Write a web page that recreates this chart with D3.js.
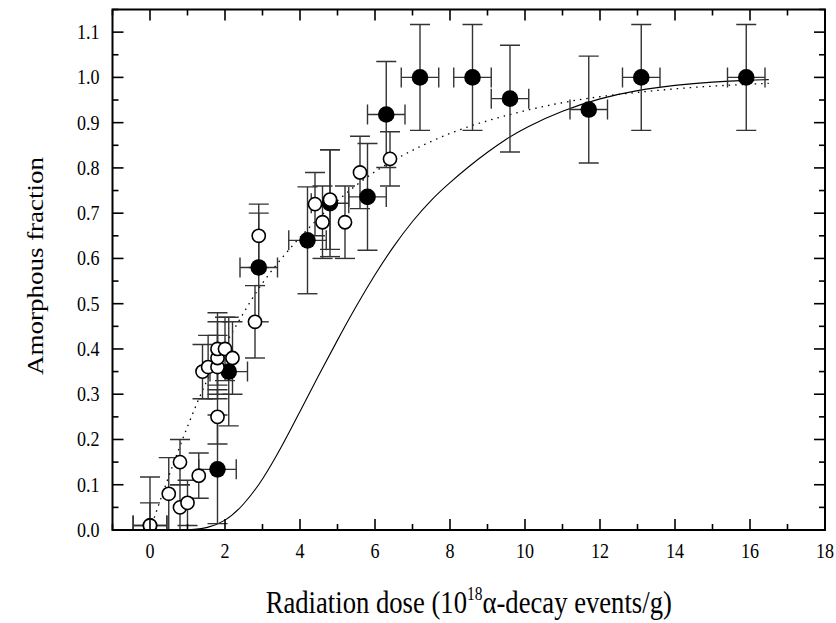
<!DOCTYPE html>
<html>
<head>
<meta charset="utf-8">
<script src="https://cdn.jsdelivr.net/npm/d3@7"></script>
<style>
  html, body { margin: 0; padding: 0; background: #fff; }
  svg { display: block; }
</style>
</head>
<body>
<svg id="chart" width="836" height="623"></svg>
<script>
// ---- Data ----
// Filled circles: dose, fraction, x error, y error
const filledX    = [1.8, 2.1, 2.9, 4.2, 4.8, 5.8, 6.3, 7.2, 8.6, 9.6, 11.7, 13.1, 15.9];
const filledY    = [0.134, 0.35, 0.58, 0.64, 0.722, 0.736, 0.918, 1.0, 1.0, 0.953, 0.929, 1.0, 1.0];
const filledXErr = [0.5, 0.5, 0.5, 0.5, 0.5, 0.5, 0.5, 0.5, 0.5, 0.5, 0.5, 0.5, 0.5];
const filledYErr = [0.12, 0.12, 0.12, 0.118, 0.118, 0.118, 0.117, 0.117, 0.117, 0.118, 0.118, 0.117, 0.117];

// Open circles: dose, fraction, y error
const openX    = [0, 0, 0.5, 0.8, 0.8, 1.0, 1.3, 1.4, 1.55, 1.8, 1.8, 1.8, 1.8, 2.0, 2.2, 2.8, 2.9, 4.4, 4.6, 4.8, 5.2, 5.6, 6.4];
const openY    = [0.01, 0.01, 0.08, 0.05, 0.15, 0.06, 0.12, 0.35, 0.36, 0.25, 0.36, 0.38, 0.40, 0.40, 0.38, 0.46, 0.65, 0.72, 0.68, 0.73, 0.68, 0.79, 0.82];
const openYErr = [0.107, 0.05, 0.08, 0.05, 0.05, 0.05, 0.05, 0.06, 0.07, 0.06, 0.07, 0.08, 0.08, 0.07, 0.08, 0.08, 0.07, 0.07, 0.08, 0.11, 0.08, 0.08, 0.06];

// Solid model curve
const solidX = [0, 0.8, 1.2, 1.5, 2, 2.5, 3, 3.5, 4, 4.5, 5, 5.5, 6, 6.5, 7, 7.5, 8, 8.5, 9, 9.5, 10, 11, 12, 13, 14, 15, 16, 16.5];
const solidY = [0, 0, 0.001, 0.004, 0.018, 0.055, 0.11, 0.182, 0.262, 0.342, 0.42, 0.495, 0.565, 0.628, 0.683, 0.73, 0.768, 0.803, 0.835, 0.864, 0.889, 0.927, 0.954, 0.972, 0.983, 0.99, 0.994, 0.995];

// Dotted model curve
const dotX = [0, 0.5, 1, 1.5, 2, 2.5, 3, 4, 5, 6, 7, 8, 9, 10, 11, 12, 13, 14, 15, 16, 16.5];
const dotY = [0, 0.12, 0.23, 0.33, 0.41, 0.48, 0.55, 0.65, 0.73, 0.795, 0.84, 0.878, 0.905, 0.927, 0.945, 0.958, 0.967, 0.975, 0.981, 0.985, 0.987];

// Axis ticks
const xTickLabels = ["0", "2", "4", "6", "8", "10", "12", "14", "16", "18"];
const xMajor = [0, 2, 4, 6, 8, 10, 12, 14, 16, 18];
const xMinor = [-1, 1, 3, 5, 7, 9, 11, 13, 15, 17];
const yMajor = [0, 0.1, 0.2, 0.3, 0.4, 0.5, 0.6, 0.7, 0.8, 0.9, 1.0, 1.1];
const yTickLabels = ["0.0", "0.1", "0.2", "0.3", "0.4", "0.5", "0.6", "0.7", "0.8", "0.9", "1.0", "1.1"];
const yMinor = [0.05, 0.15, 0.25, 0.35, 0.45, 0.55, 0.65, 0.75, 0.85, 0.95, 1.05, 1.15];

// ---- Layout ----
const L = 112.5, R = 825, T = 9.5, B = 530;
const SX = 0.86; // horizontal squeeze of the reference lettering
const svg = d3.select("#chart");
const x = d3.scaleLinear().domain([-1, 18]).range([L, R]);
const y = d3.scaleLinear().domain([0, 1.15]).range([B, T]);
const font = "'Liberation Serif', 'Times New Roman', serif";

svg.append("defs").append("clipPath").attr("id", "plotclip")
  .append("rect").attr("x", L).attr("y", T).attr("width", R - L).attr("height", B - T);

const plot = svg.append("g").attr("clip-path", "url(#plotclip)");

// curves
const line = d3.line().x(d => x(d[0])).y(d => y(d[1])).curve(d3.curveBasis);
plot.append("path").datum(solidX.map((v, i) => [v, solidY[i]]))
  .attr("d", line).attr("fill", "none").attr("stroke", "#000").attr("stroke-width", 1.1);
plot.append("path").datum(dotX.map((v, i) => [v, dotY[i]]))
  .attr("d", line).attr("fill", "none").attr("stroke", "#000").attr("stroke-width", 1.3)
  .attr("stroke-dasharray", "1.5,5");

const errCol = "#333", errW = 1.4, cap = 10;

const filled = filledX.map((v, i) => ({x: v, y: filledY[i], xe: filledXErr[i], ye: filledYErr[i]}));
const open = openX.map((v, i) => ({x: v, y: openY[i], ye: openYErr[i]}));

const eb = plot.append("g").attr("stroke", errCol).attr("stroke-width", errW).attr("fill", "none");
function yErr(d) {
  const lo = Math.max(0, d.y - d.ye), hi = d.y + d.ye;
  eb.append("line").attr("x1", x(d.x)).attr("x2", x(d.x)).attr("y1", y(lo)).attr("y2", y(hi));
  eb.append("line").attr("x1", x(d.x) - cap).attr("x2", x(d.x) + cap).attr("y1", y(hi)).attr("y2", y(hi));
  if (d.y - d.ye > 0) eb.append("line").attr("x1", x(d.x) - cap).attr("x2", x(d.x) + cap).attr("y1", y(lo)).attr("y2", y(lo));
}
function xErr(d) {
  const lo = d.x - d.xe, hi = d.x + d.xe;
  eb.append("line").attr("x1", x(lo)).attr("x2", x(hi)).attr("y1", y(d.y)).attr("y2", y(d.y));
  eb.append("line").attr("x1", x(lo)).attr("x2", x(lo)).attr("y1", y(d.y) - cap).attr("y2", y(d.y) + cap);
  eb.append("line").attr("x1", x(hi)).attr("x2", x(hi)).attr("y1", y(d.y) - cap).attr("y2", y(d.y) + cap);
}
open.forEach(d => yErr(d));
open.filter(d => d.x === 0).forEach(d => xErr({x: d.x, y: d.y, xe: 0.45}));
filled.forEach(d => { yErr(d); xErr(d); });

// markers
plot.append("g").selectAll("circle").data(filled).join("circle")
  .attr("cx", d => x(d.x)).attr("cy", d => y(d.y)).attr("r", 8.3).attr("fill", "#000");
plot.append("g").selectAll("circle").data(open).join("circle")
  .attr("cx", d => x(d.x)).attr("cy", d => y(d.y)).attr("r", 6.6)
  .attr("fill", "#fff").attr("stroke", "#000").attr("stroke-width", 1.6);

// frame
svg.append("rect").attr("x", L).attr("y", T).attr("width", R - L).attr("height", B - T)
  .attr("fill", "none").attr("stroke", "#000").attr("stroke-width", 2);

// ticks (inward, all four sides)
const tk = svg.append("g").attr("stroke", "#000").attr("stroke-width", 1.6);
const majL = 11, minL = 6;
xMajor.forEach(v => {
  tk.append("line").attr("x1", x(v)).attr("x2", x(v)).attr("y1", B).attr("y2", B - majL);
  tk.append("line").attr("x1", x(v)).attr("x2", x(v)).attr("y1", T).attr("y2", T + majL);
});
xMinor.forEach(v => {
  tk.append("line").attr("x1", x(v)).attr("x2", x(v)).attr("y1", B).attr("y2", B - minL);
  tk.append("line").attr("x1", x(v)).attr("x2", x(v)).attr("y1", T).attr("y2", T + minL);
});
yMajor.forEach(v => {
  tk.append("line").attr("x1", L).attr("x2", L + majL).attr("y1", y(v)).attr("y2", y(v));
  tk.append("line").attr("x1", R).attr("x2", R - majL).attr("y1", y(v)).attr("y2", y(v));
});
yMinor.forEach(v => {
  tk.append("line").attr("x1", L).attr("x2", L + minL).attr("y1", y(v)).attr("y2", y(v));
  tk.append("line").attr("x1", R).attr("x2", R - minL).attr("y1", y(v)).attr("y2", y(v));
});

// tick labels
svg.append("g").selectAll("text").data(xMajor).join("text")
  .attr("transform", d => `translate(${x(d)},${B + 28}) scale(${SX},1)`)
  .attr("text-anchor", "middle")
  .attr("font-family", font).attr("font-size", 21).text((d, i) => xTickLabels[i]);
svg.append("g").selectAll("text").data(yMajor).join("text")
  .attr("transform", d => `translate(${L - 13},${y(d) + 7}) scale(${SX},1)`)
  .attr("text-anchor", "end")
  .attr("font-family", font).attr("font-size", 21).text((d, i) => yTickLabels[i]);

// axis titles
svg.append("text").attr("transform", `translate(43,266) scale(${SX},1) rotate(-90)`)
  .attr("text-anchor", "middle").attr("font-family", font).attr("font-size", 27)
  .text("Amorphous fraction");

const xt = svg.append("text").attr("transform", `translate(${(L + R) / 2},613) scale(${SX},1)`)
  .attr("text-anchor", "middle").attr("font-family", font).attr("font-size", 31);
xt.append("tspan").text("Radiation dose (10");
xt.append("tspan").attr("font-size", 18).attr("dy", -13).text("18");
xt.append("tspan").attr("dy", 13).text("α-decay events/g)");
</script>
</body>
</html>
